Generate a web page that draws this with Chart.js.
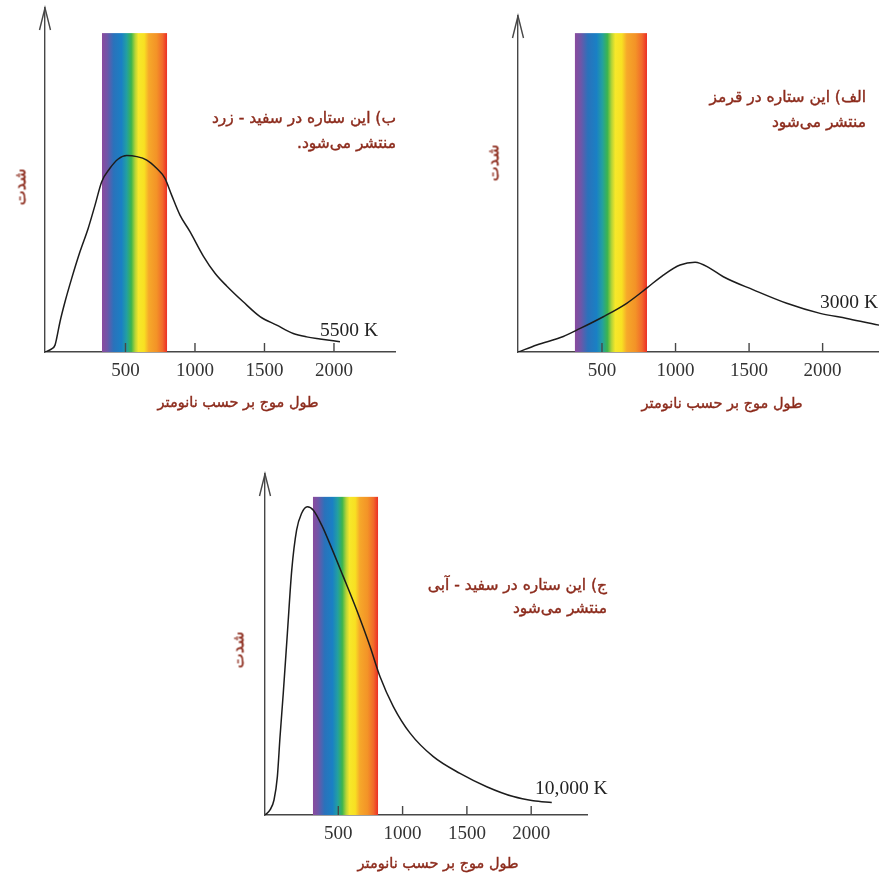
<!DOCTYPE html>
<html>
<head>
<meta charset="utf-8">
<script src="https://cdn.jsdelivr.net/npm/chart.js@4.4.1/dist/chart.umd.min.js"></script>
<style>
    html, body { margin: 0; padding: 0; background: #fff; width: 879px; height: 875px; overflow: hidden; }
    body { position: relative; }
    canvas { position: absolute; left: 0; top: 0; }
    .fa { position: absolute; font-family: "DejaVu Sans", sans-serif; color: #8c2b1c; -webkit-text-stroke: 0.4px #8c2b1c; direction: rtl; white-space: nowrap; }
    .note { text-align: right; font-size: 15.5px; }
    .xlab { font-size: 14.5px; transform: translate(-50%, -50%); }
    .ylab { font-size: 16px; transform: translate(-50%, -50%) rotate(-90deg); }
    .temp { position: absolute; font-family: "Liberation Serif", serif; font-size: 19.5px; color: #222; white-space: nowrap; transform: translateY(-50%); }
</style>
</head>
<body>
<canvas id="chart5500" width="879" height="875"></canvas>
<canvas id="chart3000" width="960" height="875"></canvas>
<canvas id="chart10000" width="879" height="875"></canvas>

<!-- panel ب : 5500 K -->
<div class="fa note" style="right:483px; top:106px; line-height:25px;">ب) این ستاره در سفید - زرد<br>منتشر می‌شود.</div>
<div class="fa ylab" style="left:20px; top:187px;">شدت</div>
<div class="fa xlab" style="left:238px; top:402px;">طول موج بر حسب نانومتر</div>
<div class="temp" style="left:320px; top:330px;">5500 K</div>

<!-- panel الف : 3000 K -->
<div class="fa note" style="right:13px; top:85px; line-height:25px;">الف) این ستاره در قرمز<br>منتشر می‌شود</div>
<div class="fa ylab" style="left:493px; top:163px;">شدت</div>
<div class="fa xlab" style="left:722px; top:403px;">طول موج بر حسب نانومتر</div>
<div class="temp" style="left:820px; top:302px;">3000 K</div>

<!-- panel ج : 10000 K -->
<div class="fa note" style="right:272px; top:574px; line-height:23px;">ج) این ستاره در سفید - آبی<br>منتشر می‌شود</div>
<div class="fa ylab" style="left:238px; top:650px;">شدت</div>
<div class="fa xlab" style="left:438px; top:863px;">طول موج بر حسب نانومتر</div>
<div class="temp" style="left:535px; top:788px;">10,000 K</div>

<script>
// Wavelength tick labels (nm)
const tickValues = [500, 1000, 1500, 2000];

// 5500 K star (white-yellow)
const wl5500 = [-79, -31, -7, 5, 29, 65, 113, 173, 232, 281, 329, 388, 448, 509, 581, 653, 724, 784, 832, 892, 964, 1060, 1144, 1228, 1347, 1468, 1588, 1707, 1804, 1899, 2043];
const int5500 = [0, 0.9, 2.0, 4.0, 8.8, 14.6, 21.4, 29.2, 36, 42.7, 49.5, 53.4, 56.1, 57.1, 56.8, 55.8, 53.4, 50.5, 45.6, 39.8, 35, 27.9, 22.9, 19.2, 14.6, 10.3, 7.8, 5.4, 4.4, 3.8, 3.0];
const band5500 = [331, 799];
const bandTop5500 = 92.7;

// 3000 K star (red)
const wl3000 = [-69, 56, 237, 328, 509, 668, 804, 917, 1031, 1133, 1235, 1325, 1529, 1756, 1983, 2165, 2384, 2600];
const int3000 = [0, 2.1, 4.6, 6.5, 10.5, 14.5, 19, 22.9, 25.9, 26.7, 24.9, 22.4, 18.5, 14.5, 11.5, 10, 8, 6.6];
const band3000 = [316, 806];
const bandTop3000 = 94.9;

// 10,000 K star (white-blue)
const wl10000 = [-70, -31, 0, 26, 47, 72, 104, 138, 176, 215, 259, 306, 371, 449, 539, 643, 747, 824, 928, 1058, 1239, 1446, 1654, 1861, 2016, 2160];
const int10000 = [0, 1.5, 4.4, 11.2, 23, 35.7, 53.3, 71.8, 83.6, 88.5, 90.4, 89.4, 85, 78.2, 69.9, 60.1, 49.4, 40.6, 31.8, 24, 17.1, 12.2, 8.3, 5.4, 4.2, 3.7];
const band10000 = [303, 809];
const bandTop10000 = 93.3;

// Visible spectrum colours, violet -> red
const SPECTRUM_STOPS = [
    [0.00, '#8a4b9e'],
    [0.08, '#6f56a8'],
    [0.18, '#2a72bb'],
    [0.30, '#1a80c4'],
    [0.38, '#23a0a0'],
    [0.45, '#3bb44f'],
    [0.51, '#b5d437'],
    [0.56, '#f6e82a'],
    [0.65, '#f8e022'],
    [0.72, '#f6a82a'],
    [0.84, '#f39327'],
    [0.93, '#f16a2b'],
    [1.00, '#ec2f26']
];

const AXIS_COLOR = '#474747';
const X_AXIS_H = 30;

// spectrum band, inward tick marks and the arrow on the y axis
const panelDecor = {
    id: 'panelDecor',
    beforeDatasetsDraw(chart, args, opts) {
        const { ctx, scales: { x, y } } = chart;
        const left = x.getPixelForValue(opts.band[0]);
        const right = x.getPixelForValue(opts.band[1]);
        const top = y.getPixelForValue(opts.bandTop);
        const bottom = y.getPixelForValue(0);
        const grad = ctx.createLinearGradient(left, 0, right, 0);
        SPECTRUM_STOPS.forEach(([p, c]) => grad.addColorStop(p, c));
        ctx.save();
        ctx.fillStyle = grad;
        ctx.fillRect(left, top, right - left, bottom - top);
        ctx.restore();
    },
    afterDraw(chart) {
        const { ctx, chartArea, scales: { x } } = chart;
        ctx.save();
        ctx.strokeStyle = AXIS_COLOR;
        ctx.lineWidth = 1.4;
        ctx.beginPath();
        x.ticks.forEach(t => {
            const px = x.getPixelForValue(t.value);
            ctx.moveTo(px, chartArea.bottom);
            ctx.lineTo(px, chartArea.bottom - 9);
        });
        // open arrow head
        const ax = chartArea.left;
        ctx.moveTo(ax - 5.5, chartArea.top + 22);
        ctx.lineTo(ax, chartArea.top);
        ctx.lineTo(ax + 5.5, chartArea.top + 22);
        ctx.stroke();
        ctx.restore();
    }
};

function makePanel(id, area, wl, intensity, xMin, xMax, band, bandTop) {
    const canvas = document.getElementById(id);
    const cw = canvas.width, ch = canvas.height;
    return new Chart(canvas, {
        type: 'line',
        data: {
            datasets: [{
                data: wl.map((w, i) => ({ x: w, y: intensity[i] })),
                borderColor: '#1c1c1c',
                borderWidth: 1.5,
                pointRadius: 0,
                fill: false,
                cubicInterpolationMode: 'monotone'
            }]
        },
        options: {
            responsive: false,
            animation: false,
            events: [],
            layout: {
                autoPadding: false,
                padding: {
                    left: area.left,
                    top: area.top,
                    right: cw - area.right,
                    bottom: ch - area.bottom - X_AXIS_H
                }
            },
            plugins: {
                legend: { display: false },
                tooltip: { enabled: false },
                panelDecor: { band: band, bandTop: bandTop }
            },
            scales: {
                x: {
                    type: 'linear',
                    min: xMin,
                    max: xMax,
                    afterBuildTicks: axis => { axis.ticks = tickValues.map(v => ({ value: v })); },
                    afterFit: scale => { scale.height = X_AXIS_H; },
                    grid: { display: false, drawTicks: false },
                    border: { display: true, color: AXIS_COLOR, width: 1.4 },
                    ticks: {
                        padding: 8,
                        color: '#333',
                        font: { family: 'Liberation Serif', size: 19 },
                        maxRotation: 0,
                        callback: v => String(v)
                    }
                },
                y: {
                    min: 0,
                    max: 100,
                    afterFit: scale => { scale.width = 0; },
                    grid: { display: false, drawTicks: false },
                    border: { display: true, color: AXIS_COLOR, width: 1.4 },
                    ticks: { display: false }
                }
            }
        },
        plugins: [panelDecor]
    });
}

makePanel('chart5500', { left: 45, top: 8, right: 395, bottom: 352 }, wl5500, int5500, -79, 2439, band5500, bandTop5500);
makePanel('chart3000', { left: 518, top: 16, right: 930, bottom: 352 }, wl3000, int3000, -71, 2730, band3000, bandTop3000);
makePanel('chart10000', { left: 265, top: 474, right: 587, bottom: 815 }, wl10000, int10000, -70, 2434, band10000, bandTop10000);
</script>
</body>
</html>
